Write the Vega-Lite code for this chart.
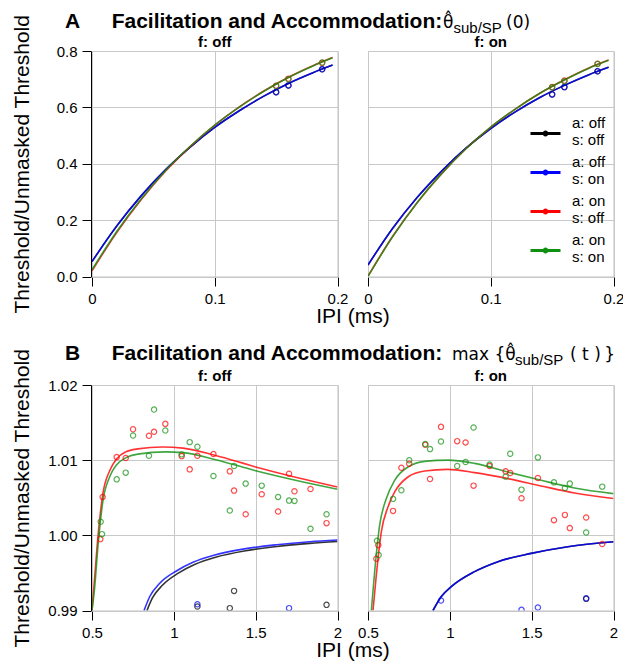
{
  "$schema": "https://vega.github.io/schema/vega-lite/v6.json",
  "background": "white",
  "padding": {"left": 11, "top": 11, "right": 5, "bottom": 5},
  "config": {
    "font": "Liberation Sans",
    "view": {"stroke": "#c0c0c0", "strokeWidth": 1},
    "axis": {"domainColor": "#000", "tickColor": "#000", "tickSize": 9, "labelFontSize": 15, "labelColor": "#000", "labelPadding": 5, "gridColor": "#c8c8c8", "titleFontSize": 21, "titleFontWeight": "normal", "titleColor": "#000"},
    "header": {"labelFontSize": 15, "labelFontWeight": "bold", "labelPadding": 0, "labelColor": "#000", "titleFontSize": 21, "titleFontWeight": "normal", "titleColor": "#000", "titlePadding": -10},
    "title": {"color": "#000", "subtitleColor": "#000"}
  },
  "datasets": {
    "d": [
      {"p":"A","f":"off","s":"k","k":"c","x":0,"y":0.053},{"p":"A","f":"off","s":"k","k":"c","x":0.02,"y":0.178},{"p":"A","f":"off","s":"k","k":"c","x":0.04,"y":0.286},{"p":"A","f":"off","s":"k","k":"c","x":0.06,"y":0.379},{"p":"A","f":"off","s":"k","k":"c","x":0.08,"y":0.459},{"p":"A","f":"off","s":"k","k":"c","x":0.1,"y":0.529},{"p":"A","f":"off","s":"k","k":"c","x":0.12,"y":0.588},{"p":"A","f":"off","s":"k","k":"c","x":0.14,"y":0.640},{"p":"A","f":"off","s":"k","k":"c","x":0.16,"y":0.685},{"p":"A","f":"off","s":"k","k":"c","x":0.18,"y":0.723},{"p":"A","f":"off","s":"k","k":"c","x":0.196,"y":0.750},
      {"p":"A","f":"off","s":"b","k":"c","x":0,"y":0.053},{"p":"A","f":"off","s":"b","k":"c","x":0.02,"y":0.178},{"p":"A","f":"off","s":"b","k":"c","x":0.04,"y":0.286},{"p":"A","f":"off","s":"b","k":"c","x":0.06,"y":0.379},{"p":"A","f":"off","s":"b","k":"c","x":0.08,"y":0.459},{"p":"A","f":"off","s":"b","k":"c","x":0.1,"y":0.529},{"p":"A","f":"off","s":"b","k":"c","x":0.12,"y":0.588},{"p":"A","f":"off","s":"b","k":"c","x":0.14,"y":0.640},{"p":"A","f":"off","s":"b","k":"c","x":0.16,"y":0.685},{"p":"A","f":"off","s":"b","k":"c","x":0.18,"y":0.723},{"p":"A","f":"off","s":"b","k":"c","x":0.196,"y":0.750},
      {"p":"A","f":"off","s":"r","k":"c","x":0,"y":0.020},{"p":"A","f":"off","s":"r","k":"c","x":0.02,"y":0.155},{"p":"A","f":"off","s":"r","k":"c","x":0.04,"y":0.272},{"p":"A","f":"off","s":"r","k":"c","x":0.06,"y":0.374},{"p":"A","f":"off","s":"r","k":"c","x":0.08,"y":0.461},{"p":"A","f":"off","s":"r","k":"c","x":0.1,"y":0.537},{"p":"A","f":"off","s":"r","k":"c","x":0.12,"y":0.602},{"p":"A","f":"off","s":"r","k":"c","x":0.14,"y":0.658},{"p":"A","f":"off","s":"r","k":"c","x":0.16,"y":0.707},{"p":"A","f":"off","s":"r","k":"c","x":0.18,"y":0.748},{"p":"A","f":"off","s":"r","k":"c","x":0.196,"y":0.777},
      {"p":"A","f":"off","s":"g","k":"c","x":0,"y":0.024},{"p":"A","f":"off","s":"g","k":"c","x":0.02,"y":0.159},{"p":"A","f":"off","s":"g","k":"c","x":0.04,"y":0.275},{"p":"A","f":"off","s":"g","k":"c","x":0.06,"y":0.376},{"p":"A","f":"off","s":"g","k":"c","x":0.08,"y":0.462},{"p":"A","f":"off","s":"g","k":"c","x":0.1,"y":0.537},{"p":"A","f":"off","s":"g","k":"c","x":0.12,"y":0.601},{"p":"A","f":"off","s":"g","k":"c","x":0.14,"y":0.657},{"p":"A","f":"off","s":"g","k":"c","x":0.16,"y":0.706},{"p":"A","f":"off","s":"g","k":"c","x":0.18,"y":0.747},{"p":"A","f":"off","s":"g","k":"c","x":0.196,"y":0.776},
      {"p":"A","f":"on","s":"k","k":"c","x":0,"y":0.041},{"p":"A","f":"on","s":"k","k":"c","x":0.02,"y":0.170},{"p":"A","f":"on","s":"k","k":"c","x":0.04,"y":0.280},{"p":"A","f":"on","s":"k","k":"c","x":0.06,"y":0.374},{"p":"A","f":"on","s":"k","k":"c","x":0.08,"y":0.456},{"p":"A","f":"on","s":"k","k":"c","x":0.1,"y":0.525},{"p":"A","f":"on","s":"k","k":"c","x":0.12,"y":0.584},{"p":"A","f":"on","s":"k","k":"c","x":0.14,"y":0.635},{"p":"A","f":"on","s":"k","k":"c","x":0.16,"y":0.678},{"p":"A","f":"on","s":"k","k":"c","x":0.18,"y":0.716},{"p":"A","f":"on","s":"k","k":"c","x":0.196,"y":0.742},
      {"p":"A","f":"on","s":"b","k":"c","x":0,"y":0.041},{"p":"A","f":"on","s":"b","k":"c","x":0.02,"y":0.170},{"p":"A","f":"on","s":"b","k":"c","x":0.04,"y":0.280},{"p":"A","f":"on","s":"b","k":"c","x":0.06,"y":0.374},{"p":"A","f":"on","s":"b","k":"c","x":0.08,"y":0.456},{"p":"A","f":"on","s":"b","k":"c","x":0.1,"y":0.525},{"p":"A","f":"on","s":"b","k":"c","x":0.12,"y":0.584},{"p":"A","f":"on","s":"b","k":"c","x":0.14,"y":0.635},{"p":"A","f":"on","s":"b","k":"c","x":0.16,"y":0.678},{"p":"A","f":"on","s":"b","k":"c","x":0.18,"y":0.716},{"p":"A","f":"on","s":"b","k":"c","x":0.196,"y":0.742},
      {"p":"A","f":"on","s":"r","k":"c","x":0,"y":0.002},{"p":"A","f":"on","s":"r","k":"c","x":0.02,"y":0.142},{"p":"A","f":"on","s":"r","k":"c","x":0.04,"y":0.262},{"p":"A","f":"on","s":"r","k":"c","x":0.06,"y":0.365},{"p":"A","f":"on","s":"r","k":"c","x":0.08,"y":0.454},{"p":"A","f":"on","s":"r","k":"c","x":0.1,"y":0.530},{"p":"A","f":"on","s":"r","k":"c","x":0.12,"y":0.594},{"p":"A","f":"on","s":"r","k":"c","x":0.14,"y":0.650},{"p":"A","f":"on","s":"r","k":"c","x":0.16,"y":0.698},{"p":"A","f":"on","s":"r","k":"c","x":0.18,"y":0.740},{"p":"A","f":"on","s":"r","k":"c","x":0.196,"y":0.768},
      {"p":"A","f":"on","s":"g","k":"c","x":0,"y":0.000},{"p":"A","f":"on","s":"g","k":"c","x":0.02,"y":0.141},{"p":"A","f":"on","s":"g","k":"c","x":0.04,"y":0.262},{"p":"A","f":"on","s":"g","k":"c","x":0.06,"y":0.365},{"p":"A","f":"on","s":"g","k":"c","x":0.08,"y":0.454},{"p":"A","f":"on","s":"g","k":"c","x":0.1,"y":0.530},{"p":"A","f":"on","s":"g","k":"c","x":0.12,"y":0.594},{"p":"A","f":"on","s":"g","k":"c","x":0.14,"y":0.650},{"p":"A","f":"on","s":"g","k":"c","x":0.16,"y":0.697},{"p":"A","f":"on","s":"g","k":"c","x":0.18,"y":0.739},{"p":"A","f":"on","s":"g","k":"c","x":0.196,"y":0.767},
      {"p":"A","f":"off","s":"k","k":"p","x":0.15,"y":0.654},{"p":"A","f":"off","s":"k","k":"p","x":0.16,"y":0.678},{"p":"A","f":"off","s":"k","k":"p","x":0.1875,"y":0.735},
      {"p":"A","f":"off","s":"b","k":"p","x":0.15,"y":0.654},{"p":"A","f":"off","s":"b","k":"p","x":0.16,"y":0.678},{"p":"A","f":"off","s":"b","k":"p","x":0.1875,"y":0.735},
      {"p":"A","f":"off","s":"r","k":"p","x":0.15,"y":0.677},{"p":"A","f":"off","s":"r","k":"p","x":0.16,"y":0.702},{"p":"A","f":"off","s":"r","k":"p","x":0.1875,"y":0.758},
      {"p":"A","f":"off","s":"g","k":"p","x":0.15,"y":0.676},{"p":"A","f":"off","s":"g","k":"p","x":0.16,"y":0.700},{"p":"A","f":"off","s":"g","k":"p","x":0.1875,"y":0.759},
      {"p":"A","f":"on","s":"k","k":"p","x":0.15,"y":0.646},{"p":"A","f":"on","s":"k","k":"p","x":0.16,"y":0.672},{"p":"A","f":"on","s":"k","k":"p","x":0.187,"y":0.728},
      {"p":"A","f":"on","s":"b","k":"p","x":0.15,"y":0.646},{"p":"A","f":"on","s":"b","k":"p","x":0.16,"y":0.672},{"p":"A","f":"on","s":"b","k":"p","x":0.187,"y":0.728},
      {"p":"A","f":"on","s":"r","k":"p","x":0.15,"y":0.672},{"p":"A","f":"on","s":"r","k":"p","x":0.16,"y":0.695},{"p":"A","f":"on","s":"r","k":"p","x":0.187,"y":0.755},
      {"p":"A","f":"on","s":"g","k":"p","x":0.15,"y":0.671},{"p":"A","f":"on","s":"g","k":"p","x":0.16,"y":0.693},{"p":"A","f":"on","s":"g","k":"p","x":0.187,"y":0.754},

      {"p":"B","f":"off","s":"k","k":"c","x":0.836,"y":0.99},{"p":"B","f":"off","s":"k","k":"c","x":0.87,"y":0.9917},{"p":"B","f":"off","s":"k","k":"c","x":0.93,"y":0.99335},{"p":"B","f":"off","s":"k","k":"c","x":1.03,"y":0.995},{"p":"B","f":"off","s":"k","k":"c","x":1.13,"y":0.99615},{"p":"B","f":"off","s":"k","k":"c","x":1.26,"y":0.99712},{"p":"B","f":"off","s":"k","k":"c","x":1.43,"y":0.99792},{"p":"B","f":"off","s":"k","k":"c","x":1.63,"y":0.99852},{"p":"B","f":"off","s":"k","k":"c","x":1.83,"y":0.99893},{"p":"B","f":"off","s":"k","k":"c","x":2.0,"y":0.99917},
      {"p":"B","f":"off","s":"b","k":"c","x":0.818,"y":0.99},{"p":"B","f":"off","s":"b","k":"c","x":0.853,"y":0.99186},{"p":"B","f":"off","s":"b","k":"c","x":0.914,"y":0.99362},{"p":"B","f":"off","s":"b","k":"c","x":1.016,"y":0.99526},{"p":"B","f":"off","s":"b","k":"c","x":1.117,"y":0.99641},{"p":"B","f":"off","s":"b","k":"c","x":1.25,"y":0.99738},{"p":"B","f":"off","s":"b","k":"c","x":1.423,"y":0.99817},{"p":"B","f":"off","s":"b","k":"c","x":1.627,"y":0.99875},{"p":"B","f":"off","s":"b","k":"c","x":1.831,"y":0.99915},{"p":"B","f":"off","s":"b","k":"c","x":2.0,"y":0.99937},
      {"p":"B","f":"off","s":"r","k":"c","x":0.5,"y":0.99},{"p":"B","f":"off","s":"r","k":"c","x":0.516,"y":0.9943},{"p":"B","f":"off","s":"r","k":"c","x":0.537,"y":1.0000},{"p":"B","f":"off","s":"r","k":"c","x":0.567,"y":1.0056},{"p":"B","f":"off","s":"r","k":"c","x":0.608,"y":1.0086},{"p":"B","f":"off","s":"r","k":"c","x":0.651,"y":1.0102},{"p":"B","f":"off","s":"r","k":"c","x":0.706,"y":1.0111},{"p":"B","f":"off","s":"r","k":"c","x":0.78,"y":1.0115},{"p":"B","f":"off","s":"r","k":"c","x":0.93,"y":1.01175},{"p":"B","f":"off","s":"r","k":"c","x":1.056,"y":1.0116},{"p":"B","f":"off","s":"r","k":"c","x":1.25,"y":1.01065},{"p":"B","f":"off","s":"r","k":"c","x":1.5,"y":1.0091},{"p":"B","f":"off","s":"r","k":"c","x":1.75,"y":1.0077},{"p":"B","f":"off","s":"r","k":"c","x":2.0,"y":1.00644},
      {"p":"B","f":"off","s":"g","k":"c","x":0.5,"y":0.99},{"p":"B","f":"off","s":"g","k":"c","x":0.516,"y":0.9930},{"p":"B","f":"off","s":"g","k":"c","x":0.537,"y":0.9987},{"p":"B","f":"off","s":"g","k":"c","x":0.567,"y":1.0046},{"p":"B","f":"off","s":"g","k":"c","x":0.608,"y":1.0078},{"p":"B","f":"off","s":"g","k":"c","x":0.651,"y":1.0094},{"p":"B","f":"off","s":"g","k":"c","x":0.706,"y":1.0103},{"p":"B","f":"off","s":"g","k":"c","x":0.78,"y":1.0108},{"p":"B","f":"off","s":"g","k":"c","x":0.95,"y":1.0111},{"p":"B","f":"off","s":"g","k":"c","x":1.056,"y":1.0110},{"p":"B","f":"off","s":"g","k":"c","x":1.25,"y":1.0101},{"p":"B","f":"off","s":"g","k":"c","x":1.5,"y":1.0086},{"p":"B","f":"off","s":"g","k":"c","x":1.75,"y":1.0073},{"p":"B","f":"off","s":"g","k":"c","x":2.0,"y":1.00613},
      {"p":"B","f":"on","s":"k","k":"c","x":0.897,"y":0.99},{"p":"B","f":"on","s":"k","k":"c","x":0.948,"y":0.99186},{"p":"B","f":"on","s":"k","k":"c","x":1.009,"y":0.99318},{"p":"B","f":"on","s":"k","k":"c","x":1.151,"y":0.99517},{"p":"B","f":"on","s":"k","k":"c","x":1.294,"y":0.9965},{"p":"B","f":"on","s":"k","k":"c","x":1.497,"y":0.9976},{"p":"B","f":"on","s":"k","k":"c","x":1.721,"y":0.99849},{"p":"B","f":"on","s":"k","k":"c","x":2.0,"y":0.99915},
      {"p":"B","f":"on","s":"b","k":"c","x":0.897,"y":0.99},{"p":"B","f":"on","s":"b","k":"c","x":0.948,"y":0.99186},{"p":"B","f":"on","s":"b","k":"c","x":1.009,"y":0.99318},{"p":"B","f":"on","s":"b","k":"c","x":1.151,"y":0.99517},{"p":"B","f":"on","s":"b","k":"c","x":1.294,"y":0.9965},{"p":"B","f":"on","s":"b","k":"c","x":1.497,"y":0.9976},{"p":"B","f":"on","s":"b","k":"c","x":1.721,"y":0.99849},{"p":"B","f":"on","s":"b","k":"c","x":2.0,"y":0.99915},
      {"p":"B","f":"on","s":"r","k":"c","x":0.5305,"y":0.99},{"p":"B","f":"on","s":"r","k":"c","x":0.551,"y":0.99473},{"p":"B","f":"on","s":"r","k":"c","x":0.5814,"y":1.00047},{"p":"B","f":"on","s":"r","k":"c","x":0.622,"y":1.00378},{"p":"B","f":"on","s":"r","k":"c","x":0.663,"y":1.00577},{"p":"B","f":"on","s":"r","k":"c","x":0.744,"y":1.00776},{"p":"B","f":"on","s":"r","k":"c","x":0.846,"y":1.00856},{"p":"B","f":"on","s":"r","k":"c","x":0.988,"y":1.00878},{"p":"B","f":"on","s":"r","k":"c","x":1.151,"y":1.00834},{"p":"B","f":"on","s":"r","k":"c","x":1.355,"y":1.00754},{"p":"B","f":"on","s":"r","k":"c","x":1.558,"y":1.00657},{"p":"B","f":"on","s":"r","k":"c","x":1.762,"y":1.00564},{"p":"B","f":"on","s":"r","k":"c","x":2.0,"y":1.00489},
      {"p":"B","f":"on","s":"g","k":"c","x":0.5204,"y":0.99},{"p":"B","f":"on","s":"g","k":"c","x":0.5407,"y":0.99517},{"p":"B","f":"on","s":"g","k":"c","x":0.5712,"y":1.00135},{"p":"B","f":"on","s":"g","k":"c","x":0.612,"y":1.00489},{"p":"B","f":"on","s":"g","k":"c","x":0.663,"y":1.00732},{"p":"B","f":"on","s":"g","k":"c","x":0.744,"y":1.00909},{"p":"B","f":"on","s":"g","k":"c","x":0.846,"y":1.00984},{"p":"B","f":"on","s":"g","k":"c","x":0.988,"y":1.01001},{"p":"B","f":"on","s":"g","k":"c","x":1.151,"y":1.00957},{"p":"B","f":"on","s":"g","k":"c","x":1.355,"y":1.00842},{"p":"B","f":"on","s":"g","k":"c","x":1.558,"y":1.00732},{"p":"B","f":"on","s":"g","k":"c","x":1.762,"y":1.0063},{"p":"B","f":"on","s":"g","k":"c","x":2.0,"y":1.00555},

      {"p":"B","f":"off","s":"k","k":"p","x":1.144,"y":0.99053},{"p":"B","f":"off","s":"k","k":"p","x":1.342,"y":0.99031},{"p":"B","f":"off","s":"k","k":"p","x":1.368,"y":0.99261},{"p":"B","f":"off","s":"k","k":"p","x":1.933,"y":0.99075},
      {"p":"B","f":"off","s":"b","k":"p","x":1.144,"y":0.99084},{"p":"B","f":"off","s":"b","k":"p","x":1.704,"y":0.99031},
      {"p":"B","f":"off","s":"r","k":"p","x":0.551,"y":0.9995},{"p":"B","f":"off","s":"r","k":"p","x":0.565,"y":1.00511},{"p":"B","f":"off","s":"r","k":"p","x":0.651,"y":1.01041},{"p":"B","f":"off","s":"r","k":"p","x":0.706,"y":1.01028},{"p":"B","f":"off","s":"r","k":"p","x":0.751,"y":1.01412},{"p":"B","f":"off","s":"r","k":"p","x":0.848,"y":1.01324},{"p":"B","f":"off","s":"r","k":"p","x":0.879,"y":1.01377},{"p":"B","f":"off","s":"r","k":"p","x":0.948,"y":1.01483},{"p":"B","f":"off","s":"r","k":"p","x":1.048,"y":1.01054},{"p":"B","f":"off","s":"r","k":"p","x":1.097,"y":1.00878},{"p":"B","f":"off","s":"r","k":"p","x":1.144,"y":1.01059},{"p":"B","f":"off","s":"r","k":"p","x":1.242,"y":1.01081},{"p":"B","f":"off","s":"r","k":"p","x":1.342,"y":1.00851},{"p":"B","f":"off","s":"r","k":"p","x":1.368,"y":1.00595},{"p":"B","f":"off","s":"r","k":"p","x":1.439,"y":1.00281},{"p":"B","f":"off","s":"r","k":"p","x":1.537,"y":1.00546},{"p":"B","f":"off","s":"r","k":"p","x":1.637,"y":1.00317},{"p":"B","f":"off","s":"r","k":"p","x":1.704,"y":1.0082},{"p":"B","f":"off","s":"r","k":"p","x":1.737,"y":1.00586},{"p":"B","f":"off","s":"r","k":"p","x":1.835,"y":1.00617},{"p":"B","f":"off","s":"r","k":"p","x":1.933,"y":1.00162},
      {"p":"B","f":"off","s":"g","k":"p","x":0.553,"y":1.0018},{"p":"B","f":"off","s":"g","k":"p","x":0.561,"y":1.00016},{"p":"B","f":"off","s":"g","k":"p","x":0.651,"y":1.00745},{"p":"B","f":"off","s":"g","k":"p","x":0.706,"y":1.00834},{"p":"B","f":"off","s":"g","k":"p","x":0.751,"y":1.01328},{"p":"B","f":"off","s":"g","k":"p","x":0.848,"y":1.01059},{"p":"B","f":"off","s":"g","k":"p","x":0.879,"y":1.01673},{"p":"B","f":"off","s":"g","k":"p","x":0.948,"y":1.01395},{"p":"B","f":"off","s":"g","k":"p","x":1.048,"y":1.01077},{"p":"B","f":"off","s":"g","k":"p","x":1.097,"y":1.0124},{"p":"B","f":"off","s":"g","k":"p","x":1.144,"y":1.01178},{"p":"B","f":"off","s":"g","k":"p","x":1.242,"y":1.00789},{"p":"B","f":"off","s":"g","k":"p","x":1.342,"y":1.0033},{"p":"B","f":"off","s":"g","k":"p","x":1.368,"y":1.00922},{"p":"B","f":"off","s":"g","k":"p","x":1.439,"y":1.00688},{"p":"B","f":"off","s":"g","k":"p","x":1.537,"y":1.00661},{"p":"B","f":"off","s":"g","k":"p","x":1.637,"y":1.00511},{"p":"B","f":"off","s":"g","k":"p","x":1.704,"y":1.00462},{"p":"B","f":"off","s":"g","k":"p","x":1.737,"y":1.00458},{"p":"B","f":"off","s":"g","k":"p","x":1.835,"y":1.00087},{"p":"B","f":"off","s":"g","k":"p","x":1.933,"y":1.00281},
      {"p":"B","f":"on","s":"k","k":"p","x":1.833,"y":0.99155},
      {"p":"B","f":"on","s":"b","k":"p","x":0.946,"y":0.99133},{"p":"B","f":"on","s":"b","k":"p","x":1.438,"y":0.99009},{"p":"B","f":"on","s":"b","k":"p","x":1.538,"y":0.9904},{"p":"B","f":"on","s":"b","k":"p","x":1.833,"y":0.99163},
      {"p":"B","f":"on","s":"r","k":"p","x":0.551,"y":0.99689},{"p":"B","f":"on","s":"r","k":"p","x":0.563,"y":0.9987},{"p":"B","f":"on","s":"r","k":"p","x":0.653,"y":1.00325},{"p":"B","f":"on","s":"r","k":"p","x":0.704,"y":1.009},{"p":"B","f":"on","s":"r","k":"p","x":0.752,"y":1.00953},{"p":"B","f":"on","s":"r","k":"p","x":0.85,"y":1.01205},{"p":"B","f":"on","s":"r","k":"p","x":0.879,"y":1.0075},{"p":"B","f":"on","s":"r","k":"p","x":0.946,"y":1.01443},{"p":"B","f":"on","s":"r","k":"p","x":1.045,"y":1.01253},{"p":"B","f":"on","s":"r","k":"p","x":1.096,"y":1.01236},{"p":"B","f":"on","s":"r","k":"p","x":1.145,"y":1.00661},{"p":"B","f":"on","s":"r","k":"p","x":1.243,"y":1.00922},{"p":"B","f":"on","s":"r","k":"p","x":1.341,"y":1.00851},{"p":"B","f":"on","s":"r","k":"p","x":1.369,"y":1.00829},{"p":"B","f":"on","s":"r","k":"p","x":1.438,"y":1.00493},{"p":"B","f":"on","s":"r","k":"p","x":1.538,"y":1.00763},{"p":"B","f":"on","s":"r","k":"p","x":1.636,"y":1.00202},{"p":"B","f":"on","s":"r","k":"p","x":1.703,"y":1.00272},{"p":"B","f":"on","s":"r","k":"p","x":1.733,"y":1.00096},{"p":"B","f":"on","s":"r","k":"p","x":1.833,"y":1.00237},{"p":"B","f":"on","s":"r","k":"p","x":1.931,"y":0.99884},
      {"p":"B","f":"on","s":"g","k":"p","x":0.555,"y":0.99928},{"p":"B","f":"on","s":"g","k":"p","x":0.565,"y":0.99738},{"p":"B","f":"on","s":"g","k":"p","x":0.653,"y":1.00485},{"p":"B","f":"on","s":"g","k":"p","x":0.704,"y":1.00599},{"p":"B","f":"on","s":"g","k":"p","x":0.752,"y":1.00999},{"p":"B","f":"on","s":"g","k":"p","x":0.85,"y":1.01214},{"p":"B","f":"on","s":"g","k":"p","x":0.879,"y":1.01147},{"p":"B","f":"on","s":"g","k":"p","x":0.946,"y":1.01249},{"p":"B","f":"on","s":"g","k":"p","x":1.045,"y":1.00923},{"p":"B","f":"on","s":"g","k":"p","x":1.096,"y":1.00975},{"p":"B","f":"on","s":"g","k":"p","x":1.145,"y":1.01434},{"p":"B","f":"on","s":"g","k":"p","x":1.243,"y":1.00941},{"p":"B","f":"on","s":"g","k":"p","x":1.341,"y":1.00781},{"p":"B","f":"on","s":"g","k":"p","x":1.369,"y":1.01085},{"p":"B","f":"on","s":"g","k":"p","x":1.438,"y":1.00608},{"p":"B","f":"on","s":"g","k":"p","x":1.538,"y":1.01037},{"p":"B","f":"on","s":"g","k":"p","x":1.636,"y":1.00705},{"p":"B","f":"on","s":"g","k":"p","x":1.703,"y":1.0063},{"p":"B","f":"on","s":"g","k":"p","x":1.733,"y":1.00688},{"p":"B","f":"on","s":"g","k":"p","x":1.833,"y":1.00038},{"p":"B","f":"on","s":"g","k":"p","x":1.931,"y":1.00648}
    ]
  },
  "spacing": 16,
  "vconcat": [
    {
      "title": {"text": "A\u2003\u2002Facilitation and Accommodation:", "fontSize": 21, "fontWeight": "bold", "anchor": "start", "frame": "group", "offset": 0, "dx": -27, "dy": 18},
      "vconcat": [
        {
          "data": {"name": "d"},
          "transform": [{"filter": "datum.p == 'A'"}],
          "title": {"text": "\u03b8\u0302\u2003\u2003\u2002\u2009\u2009\u2009(0)", "subtitle": "\u200b\u2002\u2009sub/SP", "font": "DejaVu Sans", "fontSize": 17, "fontWeight": "normal", "anchor": "start", "frame": "group", "offset": -23, "dx": 351, "subtitleFont": "Liberation Sans", "subtitleFontSize": 15, "subtitlePadding": -11},
          "facet": {"column": {"field": "f", "type": "nominal", "sort": ["off", "on"], "title": "IPI (ms)", "header": {"labelExpr": "'f: ' + datum.value", "labelOrient": "top", "titleOrient": "bottom"}}},
          "spacing": 29,
          "spec": {
            "width": 245.5,
            "height": 225.5,
            "layer": [
              {
                "transform": [{"filter": "datum.k == 'c'"}],
                "mark": {"type": "line", "interpolate": "monotone", "strokeWidth": 1.6, "strokeOpacity": 0.8, "clip": true},
                "encoding": {
                  "x": {"field": "x", "type": "quantitative", "scale": {"domain": [0, 0.2], "nice": false}, "axis": {"title": null, "values": [0, 0.1, 0.2], "format": "~g", "labelFlush": false}},
                  "y": {"field": "y", "type": "quantitative", "scale": {"domain": [0, 0.8], "nice": false}, "axis": {"title": "Threshold/Unmasked Threshold", "values": [0, 0.2, 0.4, 0.6, 0.8], "format": ".1f", "titleX": -58.3}},
                  "color": {"field": "s", "type": "nominal", "scale": {"domain": ["k", "b", "r", "g"], "range": ["#000000", "#0000ff", "#ff0000", "#109010"]},
                    "legend": {"title": null, "orient": "none", "legendX": 442, "legendY": 71, "padding": 0, "symbolType": "M-1.5,0L1.5,0M-0.15,0A0.15,0.15,0,1,1,0.15,0A0.15,0.15,0,1,1,-0.15,0", "symbolSize": 400, "symbolStrokeWidth": 3, "symbolOpacity": 1, "labelFontSize": 15, "labelColor": "#000", "labelOffset": 15, "rowPadding": 7, "labelExpr": "datum.label == 'k' ? ['a: off', 's: off'] : datum.label == 'b' ? ['a: off', 's: on'] : datum.label == 'r' ? ['a: on', 's: off'] : ['a: on', 's: on']",
                      "encode": {"labels": {"update": {"lineHeight": {"value": 17}, "dy": {"value": -10.5}}}}}}
                }
              },
              {
                "transform": [{"filter": "datum.k == 'p'"}],
                "mark": {"type": "point", "shape": "circle", "filled": false, "size": 28, "strokeWidth": 1.2, "clip": true},
                "encoding": {
                  "x": {"field": "x", "type": "quantitative"},
                  "y": {"field": "y", "type": "quantitative"},
                  "color": {"field": "s", "type": "nominal", "legend": null}
                }
              }
            ]
          }
        }
      ]
    },
    {
      "title": {"text": "B\u2003\u2002Facilitation and Accommodation:", "fontSize": 21, "fontWeight": "bold", "anchor": "start", "frame": "group", "offset": 0, "dx": -27, "dy": 18},
      "vconcat": [
        {
          "data": {"name": "d"},
          "transform": [{"filter": "datum.p == 'B'"}],
          "title": {"text": "max {\u03b8\u0302\u2003\u2003\u2002\u2002\u2009( t )\u2009}", "subtitle": "\u200b\u2003\u2003\u2003\u2003\u2009sub/SP", "font": "DejaVu Sans", "fontSize": 17, "fontWeight": "normal", "anchor": "start", "frame": "group", "offset": -21, "dx": 360, "subtitleFont": "Liberation Sans", "subtitleFontSize": 15, "subtitlePadding": -11},
          "facet": {"column": {"field": "f", "type": "nominal", "sort": ["off", "on"], "title": "IPI (ms)", "header": {"labelExpr": "'f: ' + datum.value", "labelOrient": "top", "titleOrient": "bottom"}}},
          "spacing": 29,
          "spec": {
            "width": 245.5,
            "height": 225.5,
            "layer": [
              {
                "transform": [{"filter": "datum.k == 'c'"}],
                "mark": {"type": "line", "interpolate": "monotone", "strokeWidth": 1.6, "strokeOpacity": 0.8, "clip": true},
                "encoding": {
                  "x": {"field": "x", "type": "quantitative", "scale": {"domain": [0.5, 2], "nice": false}, "axis": {"title": null, "values": [0.5, 1, 1.5, 2], "format": "~g", "labelFlush": false}},
                  "y": {"field": "y", "type": "quantitative", "scale": {"domain": [0.99, 1.02], "nice": false, "zero": false}, "axis": {"title": "Threshold/Unmasked Threshold", "values": [0.99, 1.0, 1.01, 1.02], "format": ".2f", "titleX": -58.3}},
                  "color": {"field": "s", "type": "nominal", "legend": null}
                }
              },
              {
                "transform": [{"filter": "datum.k == 'p'"}],
                "mark": {"type": "point", "shape": "circle", "filled": false, "size": 28, "strokeWidth": 1.2, "clip": true},
                "encoding": {
                  "x": {"field": "x", "type": "quantitative"},
                  "y": {"field": "y", "type": "quantitative"},
                  "color": {"field": "s", "type": "nominal", "legend": null}
                }
              }
            ]
          }
        }
      ]
    }
  ]
}
